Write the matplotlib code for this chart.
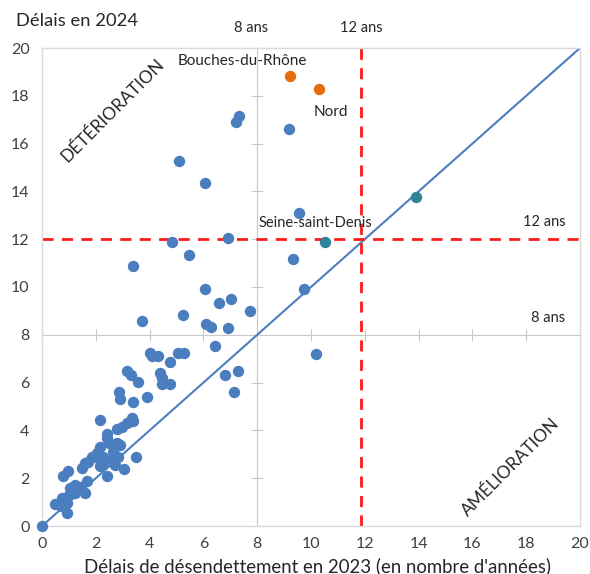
import matplotlib
matplotlib.use("Agg")
import matplotlib.pyplot as plt

plt.rcParams['font.family'] = ['Lato', 'DejaVu Sans']

# Délais de désendettement (années) : 2023 en abscisse, 2024 en ordonnée
x_2023 = [7.22, 7.34, 9.19, 5.11, 6.07, 9.56, 4.83, 6.90, 5.45, 9.32, 3.37,
          6.07, 9.75, 6.59, 7.02, 7.75, 5.24, 3.71, 6.09, 6.28, 6.93,
          10.20, 6.44, 4.02, 4.10, 4.33, 4.76, 5.04, 5.28, 4.39, 4.45, 4.45,
          4.76, 3.15, 3.30, 3.58, 2.88, 2.90, 3.40, 3.90, 6.81, 7.27, 7.12,
          2.16, 3.34, 3.15, 2.97, 2.78, 3.40, 2.41, 2.50, 2.78, 2.16, 2.90,
          2.65, 2.03, 1.85, 2.28, 2.84, 3.50, 2.16, 2.65, 1.72, 1.60, 2.28,
          2.16, 2.72, 1.48, 3.03, 2.43, 0.98, 0.79, 1.66, 1.23, 1.04, 1.45,
          1.60, 1.23, 1.00, 0.73, 0.90, 0.48, 0.92, 0.70, 0.92, 0.00, 2.40]
y_2024 = [16.90, 17.15, 16.61, 15.28, 14.36, 13.08, 11.90, 12.04, 11.34, 11.17, 10.88,
          9.90, 9.92, 9.34, 9.50, 9.00, 8.83, 8.58, 8.44, 8.34, 8.30,
          7.20, 7.52, 7.25, 7.10, 7.11, 6.87, 7.22, 7.22, 6.39, 6.20, 5.94,
          5.94, 6.50, 6.30, 6.04, 5.62, 5.30, 5.20, 5.41, 6.32, 6.50, 5.59,
          4.42, 4.50, 4.30, 4.16, 4.05, 4.40, 3.67, 3.46, 3.46, 3.32, 3.39,
          3.11, 3.04, 2.90, 2.90, 2.90, 2.90, 2.76, 2.76, 2.69, 2.62, 2.62,
          2.50, 2.55, 2.41, 2.38, 2.09, 2.31, 2.09, 1.88, 1.72, 1.58, 1.62,
          1.39, 1.39, 1.30, 1.16, 1.05, 0.92, 0.98, 0.85, 0.53, 0.00, 3.85]

# Départements mis en évidence
named_x = [9.23, 10.31]          # Bouches-du-Rhône, Nord
named_y = [18.83, 18.28]
seine_x = [13.91, 10.53]         # Seine-saint-Denis
seine_y = [13.78, 11.87]

x_ticks = list(range(0, 21, 2))
y_ticks = list(range(0, 21, 2))
threshold_x = 11.85
threshold_y = 12.0

blue = '#4a7ebf'
orange = '#e46c0a'
teal = '#2f8598'
txt = '#262626'

fig = plt.figure(figsize=(5.90, 5.74), dpi=100)
ax = fig.add_axes([42 / 590, 1 - 526 / 574, 538 / 590, 478 / 574])
ax.set_xlim(0, 20)
ax.set_ylim(0, 20)

for s in ax.spines.values():
    s.set_color('#d9d9d9')
    s.set_linewidth(1.0)
ax.set_xticks(x_ticks)
ax.set_yticks(y_ticks)
ax.tick_params(length=0, labelsize=11.5, labelcolor='#404040')
ax.tick_params(axis='x', pad=8)
ax.tick_params(axis='y', pad=9)

# Axes crossing at 8 years
sx = ax.secondary_xaxis(8 / 20)
sx.set_xticks(x_ticks)
sx.tick_params(direction='inout', length=9, color='#c8c8c8', labelbottom=False, labeltop=False)
sx.spines['bottom'].set_color('#c8c8c8')
sx.spines['top'].set_color('#c8c8c8')
sy = ax.secondary_yaxis(8 / 20)
sy.set_yticks(y_ticks)
sy.tick_params(direction='inout', length=9, color='#c8c8c8', labelleft=False, labelright=False)
sy.spines['left'].set_color('#c8c8c8')
sy.spines['right'].set_color('#c8c8c8')

# Diagonal (no change) and 12-year thresholds
ax.plot([0, 20], [0, 20], color=blue, lw=1.5, zorder=2)
ax.axvline(threshold_x, color='#ff1a1a', lw=2, ls=(0, (4, 3)), zorder=2)
ax.axhline(threshold_y, color='#ff1a1a', lw=2, ls=(0, (4, 3)), zorder=2)

ms = 8.2
ax.plot(x_2023, y_2024, 'o', color=blue, ms=ms, mec='none', zorder=3, clip_on=False)
ax.plot(named_x, named_y, 'o', color=orange, ms=ms, mec='none', zorder=3)
ax.plot(seine_x, seine_y, 'o', color=teal, ms=ms, mec='none', zorder=3)

ax.text(5.06, 19.46, 'Bouches-du-Rhône', fontsize=11, color=txt, va='center', ha='left')
ax.text(10.09, 17.32, 'Nord', fontsize=11, color=txt, va='center', ha='left')
ax.text(8.04, 12.68, 'Seine-saint-Denis', fontsize=10.5, color=txt, va='center', ha='left')

ax.text(7.78, 20.84, '8 ans', fontsize=10.5, color=txt, va='center', ha='center', clip_on=False)
ax.text(11.87, 20.84, '12 ans', fontsize=10.5, color=txt, va='center', ha='center', clip_on=False)
ax.text(19.46, 12.72, '12 ans', fontsize=10.5, color=txt, va='center', ha='right')
ax.text(19.46, 8.70, '8 ans', fontsize=10.5, color=txt, va='center', ha='right')

ax.text(2.64, 17.4, 'DÉTÉRIORATION', fontsize=12.5, color=txt, rotation=45,
        ha='center', va='center', rotation_mode='anchor')
ax.text(17.42, 2.47, 'AMÉLIORATION', fontsize=12.5, color=txt, rotation=45,
        ha='center', va='center', rotation_mode='anchor')

fig.text(16 / 590, 1 - 21 / 574, 'Délais en 2024', fontsize=13.2, color=txt, va='center', ha='left')
fig.text(317 / 590, 1 - 566 / 574, "Délais de désendettement en 2023 (en nombre d'années)",
         fontsize=13.4, color=txt, va='center', ha='center')

fig.savefig('out.png', dpi=100, facecolor='white')
